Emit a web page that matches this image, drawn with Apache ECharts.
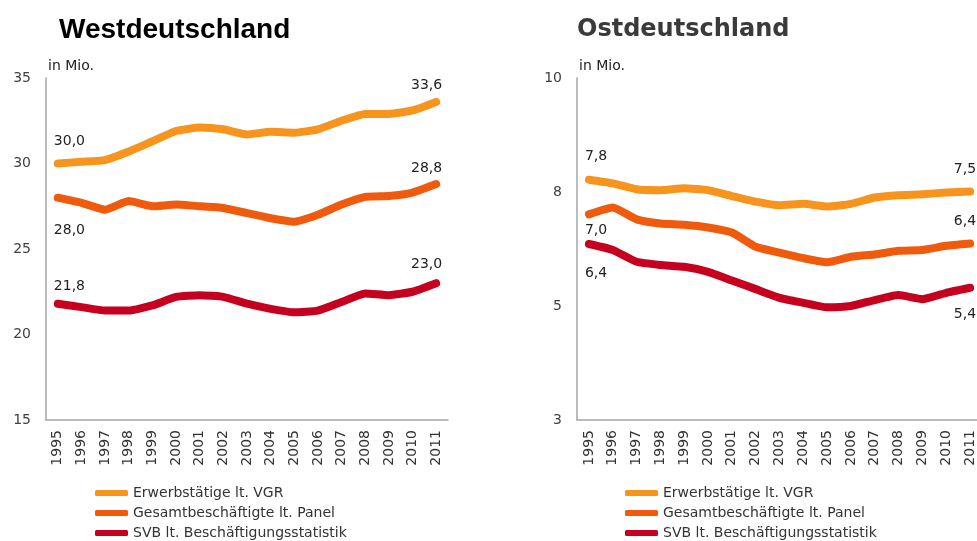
<!DOCTYPE html>
<html>
<head>
<meta charset="utf-8">
<script src="https://cdn.jsdelivr.net/npm/echarts@6/dist/echarts.min.js"></script>
<style>
  html, body { margin: 0; padding: 0; background: #fff; overflow: hidden; }
  #chart { width: 990px; height: 541px; }
</style>
</head>
<body>
<div id="chart"></div>
<script>
// categories
const years = ['1995', '1996', '1997', '1998', '1999', '2000', '2001', '2002', '2003',
  '2004', '2005', '2006', '2007', '2008', '2009', '2010', '2011'];

const seriesNames = ['Erwerbstätige lt. VGR', 'Gesamtbeschäftigte lt. Panel', 'SVB lt. Beschäftigungsstatistik'];

// Westdeutschland, in Mio.
const westVgr = [30.0, 30.1, 30.2, 30.7, 31.3, 31.9, 32.1, 32.0, 31.7, 31.85, 31.8, 32.0, 32.5, 32.9, 32.9, 33.1, 33.6];
const westPanel = [28.0, 27.7, 27.3, 27.8, 27.5, 27.6, 27.5, 27.4, 27.1, 26.8, 26.6, 27.0, 27.6, 28.05, 28.1, 28.3, 28.8];
const westSvb = [21.8, 21.6, 21.4, 21.4, 21.7, 22.2, 22.3, 22.2, 21.8, 21.5, 21.3, 21.4, 21.9, 22.4, 22.3, 22.5, 23.0];

// Ostdeutschland, in Mio.
const eastVgr = [7.77, 7.69, 7.56, 7.54, 7.58, 7.54, 7.41, 7.29, 7.21, 7.24, 7.18, 7.24, 7.38, 7.43, 7.45, 7.49, 7.51];
const eastPanel = [7.01, 7.16, 6.90, 6.81, 6.78, 6.72, 6.61, 6.30, 6.17, 6.05, 5.96, 6.08, 6.13, 6.21, 6.23, 6.32, 6.37];
const eastSvb = [6.36, 6.23, 5.97, 5.90, 5.86, 5.75, 5.56, 5.37, 5.18, 5.07, 4.97, 5.00, 5.13, 5.24, 5.15, 5.29, 5.40];

// tick labels
const westTicks = ['15', '20', '25', '30', '35'];
const eastTicks = ['3', '5', '8', '10'];

const colors = ['#F7941E', '#EF5A0C', '#C6001F'];
const FONT = 'DejaVu Sans';

const chart = echarts.init(document.getElementById('chart'));

// first / last value labels, offsets [dy first, dy last]
function withEndLabels(values, dyFirst, dyLast) {
  const last = values.length - 1;
  return values.map((v, i) => {
    if (i !== 0 && i !== last) return v;
    return {
      value: v,
      label: {
        show: true,
        position: 'inside',
        align: i === 0 ? 'left' : 'right',
        verticalAlign: 'middle',
        offset: [i === 0 ? -4 : 6, i === 0 ? dyFirst : dyLast],
        formatter: p => p.value.toFixed(1).replace('.', ','),
        fontFamily: FONT,
        fontSize: 14,
        color: '#222'
      }
    };
  });
}

function lineSeries(name, idx, color, data) {
  return {
    name: name,
    type: 'line',
    xAxisIndex: idx,
    yAxisIndex: idx,
    data: data,
    color: color,
    smooth: 0.15,
    symbol: 'circle',
    symbolSize: 1,
    showSymbol: true,
    lineStyle: { width: 8, color: color, cap: 'round', join: 'round' },
    emphasis: { disabled: true },
    z: 3 - colors.indexOf(color)
  };
}

const axisLine = { show: true, lineStyle: { color: '#A6A6A6', width: 1.5 } };

function xAxis(gridIndex) {
  return {
    type: 'category',
    gridIndex: gridIndex,
    data: years,
    boundaryGap: true,
    axisLine: axisLine,
    axisTick: { show: false },
    axisLabel: { rotate: 90, margin: 10, fontFamily: FONT, fontSize: 14, color: '#333', interval: 0 },
    splitLine: { show: false }
  };
}

function yAxis(gridIndex, min, max, interval, ticks) {
  return {
    type: 'value',
    gridIndex: gridIndex,
    min: min,
    max: max,
    interval: interval,
    name: 'in Mio.',
    nameLocation: 'end',
    nameGap: 5,
    nameTextStyle: { align: 'left', verticalAlign: 'bottom', fontFamily: FONT, fontSize: 14, color: '#222', padding: [0, 0, 0, 2] },
    axisLine: axisLine,
    axisTick: { show: false },
    splitLine: { show: false },
    axisLabel: {
      margin: 15,
      fontFamily: FONT,
      fontSize: 14,
      color: '#404040',
      formatter: (v, i) => ticks[i]
    }
  };
}

const legendBase = {
  type: 'plain',
  orient: 'vertical',
  top: 486,
  height: 60,
  padding: 0,
  itemWidth: 33,
  itemHeight: 6,
  itemGap: 6,
  icon: 'roundRect',
  data: seriesNames,
  selectedMode: false,
  textStyle: { fontFamily: FONT, fontSize: 14, lineHeight: 14, color: '#333' }
};

const option = {
  animation: false,
  title: [
    { text: 'Westdeutschland', left: 54, top: 11, textStyle: { fontFamily: 'Liberation Sans', fontWeight: 'bold', fontSize: 28, color: '#000' } },
    { text: 'Ostdeutschland', left: 572, top: 13, textStyle: { fontFamily: FONT, fontWeight: 'bold', fontSize: 24, color: '#3A3A3A' } }
  ],
  legend: [
    Object.assign({}, legendBase, { left: 95 }),
    Object.assign({}, legendBase, { left: 625 })
  ],
  grid: [
    { left: 46, top: 78, width: 402, height: 342 },
    { left: 577, top: 78, width: 405, height: 342 }
  ],
  xAxis: [xAxis(0), xAxis(1)],
  yAxis: [yAxis(0, 15, 35, 5, westTicks), yAxis(1, 2.5, 10, 2.5, eastTicks)],
  series: [
    lineSeries(seriesNames[0], 0, colors[0], withEndLabels(westVgr, -22, -17)),
    lineSeries(seriesNames[1], 0, colors[1], withEndLabels(westPanel, 33, -16)),
    lineSeries(seriesNames[2], 0, colors[2], withEndLabels(westSvb, -17, -19)),
    lineSeries(seriesNames[0], 1, colors[0], withEndLabels(eastVgr, -23, -22)),
    lineSeries(seriesNames[1], 1, colors[1], withEndLabels(eastPanel, 16, -22)),
    lineSeries(seriesNames[2], 1, colors[2], withEndLabels(eastSvb, 29, 27))
  ]
};

chart.setOption(option);
</script>
</body>
</html>
